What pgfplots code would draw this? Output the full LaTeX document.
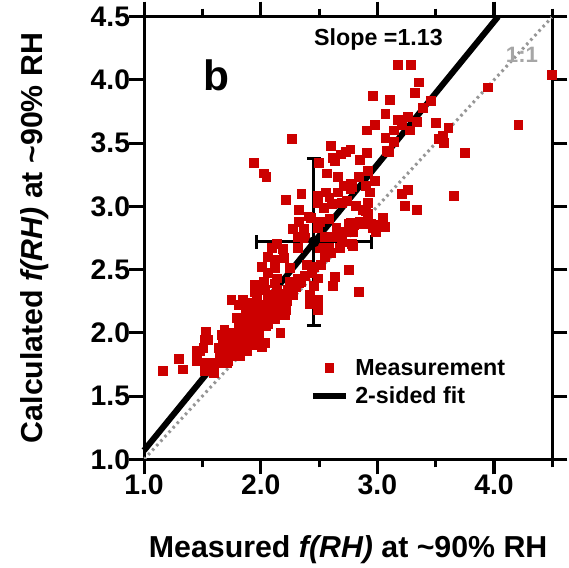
\documentclass[border=0pt]{standalone}
\usepackage{fontspec}
\setmainfont{Liberation Sans}
\usepackage{pgfplots}
\pgfplotsset{compat=1.18}
\definecolor{mred}{RGB}{204,0,0}
\definecolor{oneone}{RGB}{150,150,150}
\pgfplotstableread{
x y
3.175 4.12
3.29 4.12
3.36 3.98
3.32 3.90
2.96 3.87
3.11 3.84
3.07 3.73
3.26 3.71
3.18 3.68
2.98 3.64
3.21 3.64
2.91 3.60
3.14 3.60
3.28 3.60
3.07 3.54
3.14 3.51
3.46 3.83
3.39 3.78
3.50 3.66
3.61 3.62
3.56 3.56
3.53 3.53
3.57 3.50
3.95 3.94
4.21 3.64
4.50 4.04
3.75 3.42
3.66 3.08
3.34 3.67
3.10 3.43
2.27 3.53
2.60 3.48
2.77 3.45
2.73 3.43
2.69 3.41
2.91 3.42
2.62 3.38
2.64 3.36
2.85 3.37
2.50 3.34
1.94 3.34
2.03 3.26
2.05 3.23
2.57 3.26
2.66 3.23
2.84 3.23
2.92 3.28
2.98 3.20
3.08 3.44
2.71 3.16
2.78 3.15
2.90 3.16
3.21 3.10
3.26 3.13
3.24 3.00
3.34 2.97
2.35 3.10
2.22 3.05
2.49 3.08
2.56 3.11
2.59 3.07
2.66 3.11
2.49 3.03
2.61 3.02
2.70 3.03
2.74 3.04
2.82 3.00
2.92 3.03
2.94 3.11
2.54 2.99
2.33 2.97
2.41 2.92
2.90 2.96
2.92 2.94
3.05 2.91
2.76 2.86
2.88 2.86
2.98 2.84
3.07 2.84
2.96 2.83
2.99 2.80
2.77 3.18
2.77 3.14
2.88 2.97
2.77 2.87
2.87 2.86
3.00 2.85
2.79 2.80
2.78 2.70
2.33 2.88
2.43 2.91
2.51 2.88
2.59 2.90
2.85 2.88
2.95 2.86
3.01 2.84
3.05 2.91
2.28 2.82
2.37 2.82
2.49 2.83
2.65 2.83
2.32 2.76
2.38 2.75
2.55 2.76
2.64 2.76
2.14 2.70
2.10 2.67
2.19 2.66
2.32 2.67
2.51 2.67
2.59 2.67
2.68 2.67
2.79 2.69
2.06 2.60
2.20 2.59
2.12 2.58
2.01 2.52
2.12 2.51
2.25 2.51
2.40 2.54
2.52 2.54
2.76 2.50
2.06 2.47
2.14 2.43
2.32 2.43
2.49 2.43
2.64 2.44
2.03 2.40
2.12 2.39
2.25 2.40
2.33 2.39
1.95 2.38
2.46 2.37
2.62 2.37
2.84 2.32
1.95 2.32
2.04 2.34
2.14 2.34
2.23 2.34
1.97 2.30
2.08 2.30
2.26 2.30
2.42 2.30
1.75 2.26
1.85 2.26
1.93 2.24
2.06 2.26
2.49 2.26
1.81 2.22
1.88 2.22
1.95 2.22
2.01 2.22
2.08 2.22
2.21 2.23
2.42 2.23
1.91 2.18
2.01 2.16
2.14 2.18
2.22 2.18
2.49 2.18
1.80 2.12
1.87 2.14
1.94 2.12
2.01 2.11
2.12 2.11
2.21 2.14
1.81 2.06
1.88 2.07
1.97 2.06
2.06 2.07
1.69 2.02
1.77 2.00
1.86 2.02
1.93 2.00
1.99 1.99
2.17 2.00
1.53 2.01
1.67 1.98
1.74 1.96
1.82 1.96
1.91 1.96
2.04 1.92
1.52 1.94
1.55 1.94
1.68 1.92
1.77 1.91
1.86 1.91
1.94 1.90
2.01 1.89
1.51 1.88
1.64 1.88
1.71 1.87
1.80 1.87
1.88 1.86
1.45 1.86
1.48 1.86
1.65 1.83
1.74 1.82
1.82 1.82
1.45 1.78
1.54 1.76
1.62 1.76
1.71 1.76
1.30 1.79
1.33 1.71
1.16 1.70
1.52 1.70
1.60 1.68
1.70 1.80
1.73 1.84
1.76 1.86
1.78 1.84
1.80 1.90
1.83 1.93
1.85 1.88
1.87 1.97
1.89 1.95
1.90 2.02
1.92 1.99
1.94 2.05
1.96 2.03
1.98 2.10
2.00 2.08
2.02 2.13
2.04 2.10
2.06 2.18
2.08 2.14
2.10 2.20
2.12 2.24
2.15 2.22
2.18 2.28
2.20 2.26
1.84 1.95
1.79 1.93
1.75 1.88
1.72 1.78
1.68 1.80
1.66 1.76
1.92 2.08
1.97 2.14
2.03 2.20
2.09 2.27
2.16 2.31
1.99 2.03
1.95 1.97
1.88 1.92
2.05 2.05
2.10 2.12
2.14 2.16
2.18 2.21
2.23 2.25
2.28 2.30
2.30 2.36
2.35 2.40
2.38 2.45
2.44 2.47
2.46 2.52
2.55 2.60
2.60 2.63
2.70 2.72
2.72 2.80
2.80 2.85
}\meas
\begin{document}
\begin{tikzpicture}
\begin{axis}[
  at={(0pt,0pt)}, anchor=south west,
  scale only axis, width=404pt, height=438pt,
  xmin=1, xmax=4.5, ymin=1, ymax=4.5,
  clip=false,
  every axis/.append style={line width=3pt},
  xtick={1,2,3,4}, minor xtick={1.5,2.5,3.5,4.5},
  ytick={1,1.5,2,2.5,3,3.5,4,4.5},
  tick align=outside, major tick length=15pt, minor tick length=8pt,
  every tick/.append style={draw=black, line width=3pt},
  ticklabel style={font=\bfseries\fontsize{28}{28}\selectfont},
  xticklabel={\pgfmathprintnumber[fixed,fixed zerofill,precision=1,assume math mode=true]{\tick}},
  yticklabel={\pgfmathprintnumber[fixed,fixed zerofill,precision=1,assume math mode=true]{\tick}},
  xticklabel style={yshift=5pt},
  yticklabel style={xshift=6pt},
  xlabel={Measured \textbf{\textit{f(RH)}} at \textasciitilde 90\% RH},
  ylabel={Calculated \textbf{\textit{f(RH)}} at \textasciitilde 90\% RH},
  label style={font=\bfseries\fontsize{30}{30}\selectfont},
  xlabel style={yshift=-33pt},
  ylabel style={inner ysep=20pt, yshift=17pt},
  legend style={at={(rel axis cs:0.406,0.174)}, anchor=west, draw=none, fill=none,
    inner sep=0pt, outer sep=0pt, row sep=6pt,
    font=\bfseries\fontsize{23}{23}\selectfont},
  legend cell align=left,
  legend style={/tikz/every odd column/.append style={column sep=4pt}},
]
\addplot[only marks, mark=square*, mark size=3.4pt, mark options={fill=mred, draw=mred},
  legend image code/.code={\draw[mark repeat=2, mark phase=2] plot coordinates {(0pt,0pt) (16.5pt,0pt) (33pt,0pt)};}]
  table[x=x, y=y] {\meas};
\addlegendentry{Measurement}
\addplot[black, line width=6pt, legend image code/.code={\draw[line width=6pt] (0pt,0pt) -- (33pt,0pt);}]
  coordinates {(1,1.07) (4.035,4.5)};
\addlegendentry{2-sided fit}
\addplot[oneone, line width=3pt, dash pattern=on 2.5pt off 3.5pt, forget plot]
  coordinates {(1,1) (4.5,4.5)};
% error bars of the mean point
\addplot[black, line width=3pt, forget plot] coordinates {(1.966,2.72) (2.946,2.72)};
\addplot[black, line width=3pt, forget plot] coordinates {(2.456,2.06) (2.456,3.38)};
\addplot[black, line width=3pt, forget plot] coordinates {(1.966,2.664) (1.966,2.776)};
\addplot[black, line width=3pt, forget plot] coordinates {(2.946,2.664) (2.946,2.776)};
\addplot[black, line width=3pt, forget plot] coordinates {(2.395,3.38) (2.517,3.38)};
\addplot[black, line width=3pt, forget plot] coordinates {(2.395,2.06) (2.517,2.06)};
\addplot[only marks, mark=*, mark size=4pt, black, forget plot] coordinates {(2.456,2.72)};
% tick marks on the four sides of the frame
\addplot[black, line width=3pt, forget plot, unbounded coords=jump] coordinates {
  (1,1) (1,0.88) (1,nan) (2,1) (2,0.88) (2,nan) (3,1) (3,0.88) (3,nan) (4,1) (4,0.88) (4,nan)
  (1.5,1) (1.5,0.936) (1.5,nan) (2.5,1) (2.5,0.936) (2.5,nan) (3.5,1) (3.5,0.936) (3.5,nan) (4.5,1) (4.5,0.936)};
\addplot[black, line width=3pt, forget plot, unbounded coords=jump] coordinates {
  (1,4.5) (1,4.62) (1,nan) (2,4.5) (2,4.62) (2,nan) (3,4.5) (3,4.62) (3,nan) (4,4.5) (4,4.62) (4,nan)
  (1.5,4.5) (1.5,4.564) (1.5,nan) (2.5,4.5) (2.5,4.564) (2.5,nan) (3.5,4.5) (3.5,4.564) (3.5,nan) (4.5,4.5) (4.5,4.564)};
\addplot[black, line width=3pt, forget plot, unbounded coords=jump] coordinates {
  (1,1) (0.87,1) (nan,1) (1,1.5) (0.87,1.5) (nan,1.5) (1,2) (0.87,2) (nan,2) (1,2.5) (0.87,2.5) (nan,2.5)
  (1,3) (0.87,3) (nan,3) (1,3.5) (0.87,3.5) (nan,3.5) (1,4) (0.87,4) (nan,4) (1,4.5) (0.87,4.5)};
\addplot[black, line width=3pt, forget plot, unbounded coords=jump] coordinates {
  (4.5,1) (4.63,1) (nan,1) (4.5,1.5) (4.63,1.5) (nan,1.5) (4.5,2) (4.63,2) (nan,2) (4.5,2.5) (4.63,2.5) (nan,2.5)
  (4.5,3) (4.63,3) (nan,3) (4.5,3.5) (4.63,3.5) (nan,3.5) (4.5,4) (4.63,4) (nan,4) (4.5,4.5) (4.63,4.5)};
\node[font=\bfseries\fontsize{42}{42}\selectfont] at (axis cs:1.624,4.04) {b};
\node[font=\bfseries\fontsize{23}{23}\selectfont] at (axis cs:3.01,4.32) {Slope =1.13};
\node[font=\bfseries\fontsize{22}{22}\selectfont, text=oneone!85!white] at (axis cs:4.24,4.20) {1:1};
\end{axis}
\end{tikzpicture}
\end{document}
